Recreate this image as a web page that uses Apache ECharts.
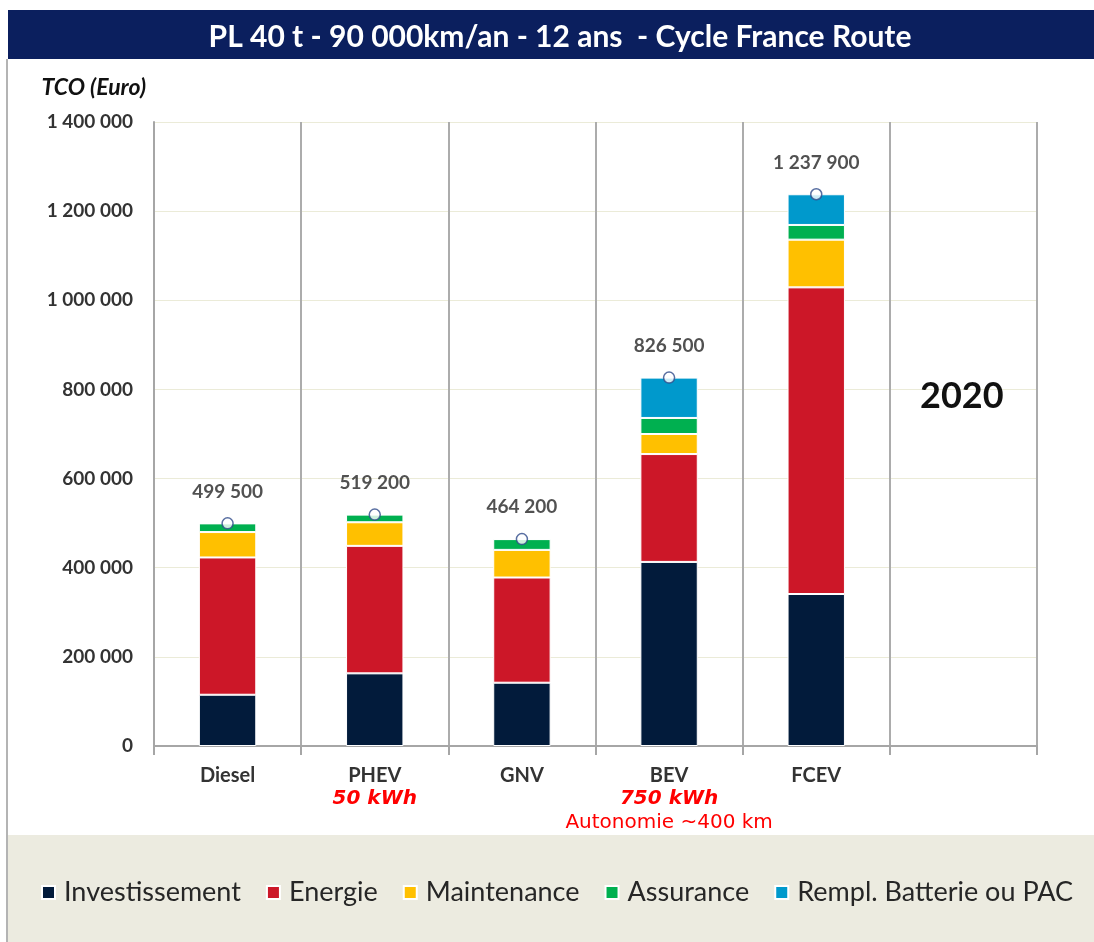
<!DOCTYPE html>
<html>
<head>
<meta charset="utf-8">
<script src="https://cdn.jsdelivr.net/npm/echarts@6/dist/echarts.min.js"></script>
<style>
  html, body { margin: 0; padding: 0; background: #fff; }
  #chart { width: 1094px; height: 942px; }
</style>
</head>
<body>
<div id="chart"></div>
<script>
// categories (last column left empty in the original)
var categories = ['Diesel', 'PHEV', 'GNV', 'BEV', 'FCEV', ''];
var subLabels = ['', '50 kWh', '', '750 kWh', '', ''];
var noteLabels = ['', '', '', 'Autonomie ~400 km', '', ''];

// TCO components (Euro)
var investissement = [115000, 163000, 142000, 413000, 341000, '-'];
var energie        = [308000, 286000, 236000, 242000, 688000, '-'];
var maintenance    = [57000, 53000, 62000, 45000, 107000, '-'];
var assurance      = [19500, 17200, 24200, 36000, 33000, '-'];
var remplBatterie  = [0, 0, 0, 90500, 68900, '-'];
var totals         = [499500, 519200, 464200, 826500, 1237900, '-'];

var yTicks = [0, 200000, 400000, 600000, 800000, 1000000, 1200000, 1400000];

var FONT = 'Lato, "Open Sans", sans-serif';
var FONT_RED = '"DejaVu Sans", Verdana, sans-serif';

function fmt(v) {
    return String(v).replace(/\B(?=(\d{3})+(?!\d))/g, ' ');
}

var myChart = echarts.init(document.getElementById('chart'));

var barStyle = function (name, data, color) {
    return {
        name: name,
        type: 'bar',
        stack: 'tco',
        barWidth: '39%',
        data: data,
        itemStyle: { color: color, borderColor: '#ffffff', borderWidth: 1 }
    };
};

var option = {
    animation: false,
    textStyle: { fontFamily: FONT },
    title: {
        text: 'PL 40 t - 90 000km/an - 12 ans  - Cycle France Route',
        left: 555,
        top: 17,
        textAlign: 'center',
        z: 10,
        textStyle: { color: '#ffffff', fontSize: 30, fontWeight: 'bold', fontFamily: FONT }
    },
    graphic: [
        // title banner
        { type: 'rect', z: 0, shape: { x: 8, y: 10, width: 1086, height: 49 }, style: { fill: '#0b1f5e' } },
        // legend box
        { type: 'rect', z: 0, shape: { x: 7, y: 835, width: 1087, height: 107 }, style: { fill: '#ecebe0' } },
        // left frame line
        { type: 'line', z: 1, shape: { x1: 7, y1: 59, x2: 7, y2: 942 }, style: { stroke: '#b4b4b4', lineWidth: 2 } },
        {
            type: 'text', z: 5, left: 920, top: 378,
            style: { text: '2020', fontSize: 36, fontWeight: 'bold', fill: '#111', fontFamily: FONT }
        }
    ],
    legend: {
        left: 36,
        right: 0,
        top: 874,
        itemWidth: 13,
        itemHeight: 13,
        itemGap: 25,
        icon: 'rect',
        textStyle: { fontSize: 27, color: '#262626', fontFamily: FONT, padding: [0, 0, 0, 4] },
        data: ['Investissement', 'Energie', 'Maintenance', 'Assurance', 'Rempl. Batterie ou PAC']
    },
    grid: {
        left: 154,
        right: 57,
        top: 122,
        bottom: 196,
        containLabel: false
    },
    xAxis: {
        type: 'category',
        data: categories,
        axisLine: { lineStyle: { color: '#a6a6a6', width: 2 } },
        axisTick: { show: true, length: 9, lineStyle: { color: '#a6a6a6', width: 2 } },
        splitLine: { show: true, lineStyle: { color: '#acacac', width: 2 } },
        axisLabel: {
            margin: 19,
            interval: 0,
            formatter: function (v, i) {
                var s = '{c|' + v + '}';
                if (subLabels[i]) s += '\n{s|' + subLabels[i] + '}';
                if (noteLabels[i]) s += '\n{n|' + noteLabels[i] + '}';
                return s;
            },
            rich: {
                c: { fontSize: 20, fontWeight: 'bold', color: '#333', lineHeight: 22, fontFamily: FONT },
                s: { fontSize: 20, fontWeight: 'bold', fontStyle: 'italic', color: '#ff0000', lineHeight: 24, fontFamily: FONT_RED },
                n: { fontSize: 20, color: '#ff0000', lineHeight: 24, fontFamily: FONT_RED }
            }
        }
    },
    yAxis: {
        type: 'value',
        min: yTicks[0],
        max: yTicks[yTicks.length - 1],
        interval: yTicks[1] - yTicks[0],
        name: 'TCO (Euro)',
        nameLocation: 'end',
        nameGap: 34,
        nameTextStyle: {
            fontSize: 23, fontWeight: 'bold', fontStyle: 'italic', color: '#111',
            align: 'right', verticalAlign: 'middle', padding: [0, 8, 0, 0], fontFamily: FONT
        },
        axisLine: { show: true, lineStyle: { color: '#a6a6a6', width: 2 } },
        axisTick: { show: false },
        splitLine: { lineStyle: { color: '#ebebd8', width: 1 } },
        axisLabel: {
            margin: 21,
            fontSize: 19,
            fontWeight: 'bold',
            color: '#333',
            formatter: function (v) { return fmt(v); }
        }
    },
    series: [
        barStyle('Investissement', investissement, '#021b3b'),
        barStyle('Energie', energie, '#cc1728'),
        barStyle('Maintenance', maintenance, '#ffc000'),
        barStyle('Assurance', assurance, '#00b050'),
        barStyle('Rempl. Batterie ou PAC', remplBatterie, '#0099cc'),
        {
            name: 'Total',
            type: 'scatter',
            data: totals,
            symbolSize: 11,
            z: 5,
            itemStyle: { color: '#ffffff', borderColor: '#2e4a8a', borderWidth: 1.5 },
            label: {
                show: true,
                position: 'top',
                distance: 16,
                fontSize: 19,
                fontWeight: 'bold',
                color: '#262626',
                fontFamily: FONT,
                formatter: function (p) { return fmt(p.value); }
            }
        }
    ]
};
myChart.setOption(option);
</script>
</body>
</html>
